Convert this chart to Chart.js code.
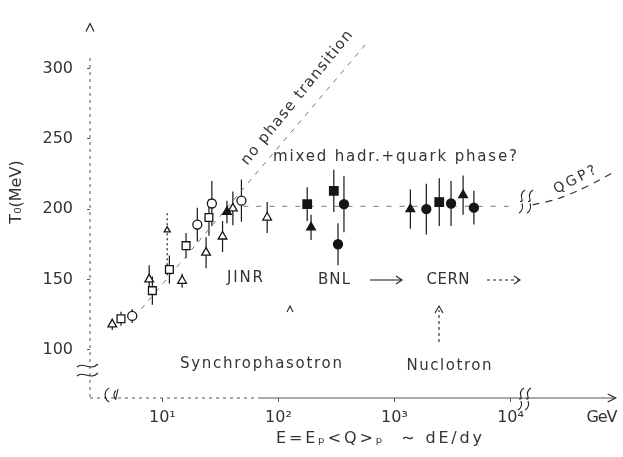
<!DOCTYPE html>
<html>
<head>
<meta charset="utf-8">
<script src="https://cdn.jsdelivr.net/npm/chart.js@4.4.1/dist/chart.umd.min.js"></script>
<style>
  html, body { margin: 0; padding: 0; background: #fff; }
  #wrap { width: 623px; height: 457px; position: relative; }
</style>
</head>
<body>
<div id="wrap"><canvas id="c"></canvas></div>
<script>
// values (E in GeV, T0 in MeV)
const openTriE = [3.7, 7.7, 14.8, 23.8, 33, 40.5, 80];
const openTriT = [118, 150, 149, 169, 180.5, 200.5, 194];
const openTriErr = [4, 10, 5, 11, 11, 12, 11];

const dottedTriE = [11.0];
const dottedTriT = [185];
const dottedTriErrUp = [12];
const dottedTriErrDn = [32];

const openSqE = [4.4, 8.2, 11.5, 16, 25.2];
const openSqT = [122, 142, 157, 174, 194];
const openSqErr = [5, 10, 10, 9, 13];

const openCircE = [5.5, 20, 26.7, 48];
const openCircT = [124, 189, 204, 206];
const openCircErr = [5, 12, 16, 15];

const fillTriE = [36, 191, 1370, 3900];
const fillTriT = [198, 187, 200, 210];
const fillTriErr = [8, 9, 14, 14];

const fillSqE = [177, 300, 2430];
const fillSqT = [203.5, 213, 205];
const fillSqErr = [12, 15, 17];

const fillCircE = [367, 326, 1880, 3070, 4830];
const fillCircT = [203.5, 175, 200, 204, 201];
const fillCircErr = [20, 15, 18, 16, 12];

// guide lines
const diagE = [6.6, 560];
const diagT = [129, 317];
const flatE = [50, 11000];
const flatT = [202, 202];
const qgpE = [15500, 24700, 38900, 57700, 76000];
const qgpT = [203, 207, 213.5, 220.5, 226];

const xTickValues = [10, 100, 1000, 10000];
const xTickLabels = ['10¹', '10²', '10³', '10⁴'];
const yTickValues = [100, 150, 200, 250, 300];

const INK = '#161616';
const TXT = '#333';
const FONT = '"DejaVu Sans", sans-serif';

function pts(xs, ys) { return xs.map((x, i) => ({ x, y: ys[i] })); }

function markerSet(label, xs, ys, style, filled, r, up, dn, dash) {
  return {
    type: 'scatter', label, data: pts(xs, ys),
    pointStyle: style, pointRadius: r, pointHoverRadius: r,
    pointBackgroundColor: filled ? INK : '#fff',
    pointBorderColor: INK, pointBorderWidth: 1.3,
    errUp: up, errDn: dn || up, errDash: dash || null, order: 1
  };
}

function lineSet(label, xs, ys, dash, color, width) {
  return {
    type: 'line', label, data: pts(xs, ys), showLine: true,
    borderColor: color, borderWidth: width, borderDash: dash,
    pointRadius: 0, fill: false, tension: 0.3, order: 5
  };
}

// vertical error bars, drawn under the markers
const errorBars = {
  id: 'errorBars',
  beforeDatasetsDraw(chart) {
    const { ctx } = chart;
    const y = chart.scales.y, x = chart.scales.x;
    chart.data.datasets.forEach(ds => {
      if (!ds.errUp) return;
      ctx.save();
      ctx.strokeStyle = INK;
      ctx.lineWidth = 1.2;
      if (ds.errDash) ctx.setLineDash(ds.errDash);
      ds.data.forEach((p, i) => {
        const px = x.getPixelForValue(p.x);
        ctx.beginPath();
        ctx.moveTo(px, y.getPixelForValue(p.y + ds.errUp[i]));
        ctx.lineTo(px, y.getPixelForValue(p.y - ds.errDn[i]));
        ctx.stroke();
      });
      ctx.restore();
    });
  }
};

function fitText(ctx, text, cx, cy, width, angle) {
  ctx.save();
  ctx.translate(cx, cy);
  ctx.rotate(angle || 0);
  ctx.textAlign = 'center';
  ctx.textBaseline = 'middle';
  const w = ctx.measureText(text).width;
  const ls = (width - w) / Math.max(text.length - 1, 1);
  ctx.letterSpacing = ls + 'px';
  ctx.fillText(text, ls / 2, 0);
  ctx.restore();
}

function curly(ctx, x, y0, y1) {
  const m = (y0 + y1) / 2;
  ctx.beginPath();
  ctx.moveTo(x + 3, y0);
  ctx.quadraticCurveTo(x - 2, y0 + 3, x, m - 2);
  ctx.quadraticCurveTo(x + 1, m, x - 2, m);
  ctx.moveTo(x, m + 2);
  ctx.quadraticCurveTo(x + 2, y1 - 3, x - 3, y1);
  ctx.stroke();
}

const decorations = {
  id: 'decorations',
  beforeDatasetsDraw(chart) {
    const { ctx, chartArea: a } = chart;
    ctx.save();
    ctx.strokeStyle = '#555';
    ctx.lineWidth = 1;
    // y axis (faint, dashed) with arrow
    ctx.setLineDash([3, 4]);
    ctx.beginPath(); ctx.moveTo(a.left, 58); ctx.lineTo(a.left, a.bottom); ctx.stroke();
    // x axis: dotted left part, solid right part
    ctx.beginPath(); ctx.moveTo(a.left, a.bottom); ctx.lineTo(260, a.bottom); ctx.stroke();
    ctx.setLineDash([]);
    ctx.beginPath(); ctx.moveTo(260, a.bottom); ctx.lineTo(a.right - 2, a.bottom); ctx.stroke();
    ctx.lineWidth = 1.2;
    ctx.strokeStyle = '#222';
    ctx.beginPath(); ctx.moveTo(a.right - 8, a.bottom - 4); ctx.lineTo(a.right, a.bottom); ctx.lineTo(a.right - 8, a.bottom + 4); ctx.stroke();
    ctx.beginPath(); ctx.moveTo(a.left - 4, a.top + 8); ctx.lineTo(a.left, a.top); ctx.lineTo(a.left + 4, a.top + 8); ctx.stroke();
    ctx.restore();
  },
  afterDraw(chart) {
    const { ctx, chartArea: a } = chart;
    ctx.save();
    ctx.fillStyle = TXT;
    ctx.strokeStyle = '#222';
    ctx.lineWidth = 1.1;

    // axis titles
    ctx.font = '16px ' + FONT;
    ctx.save();
    ctx.translate(17, 192);
    ctx.rotate(-Math.PI / 2);
    ctx.textAlign = 'center'; ctx.textBaseline = 'middle';
    ctx.fillText('T₀(MeV)', 0, 0);
    ctx.restore();
    fitText(ctx, 'E=Eₚ<Q>ₚ  ∼ dE/dy', 379, 439, 206);
    fitText(ctx, 'GeV', 602, 418, 31);

    // region labels
    ctx.font = '15px ' + FONT;
    fitText(ctx, 'mixed hadr.+quark phase?', 395, 157, 244);
    fitText(ctx, 'no phase transition', 297, 98, 168, -51 * Math.PI / 180);
    ctx.font = '14px ' + FONT;
    fitText(ctx, 'QGP?', 575, 180, 46, -27 * Math.PI / 180);
    ctx.font = '15px ' + FONT;
    fitText(ctx, 'JINR', 245, 278, 36);
    fitText(ctx, 'BNL', 334, 280, 32);
    fitText(ctx, 'CERN', 448, 280, 43);
    fitText(ctx, 'Synchrophasotron', 261, 364, 162);
    fitText(ctx, 'Nuclotron', 449, 366, 85);

    // arrows between labels
    ctx.beginPath(); ctx.moveTo(370, 280); ctx.lineTo(401, 280); ctx.stroke();
    ctx.beginPath(); ctx.moveTo(396, 276); ctx.lineTo(402, 280); ctx.lineTo(396, 284); ctx.stroke();
    ctx.setLineDash([3, 3]);
    ctx.beginPath(); ctx.moveTo(487, 280); ctx.lineTo(519, 280); ctx.stroke();
    ctx.beginPath(); ctx.moveTo(439, 342); ctx.lineTo(439, 310); ctx.stroke();
    ctx.setLineDash([]);
    ctx.beginPath(); ctx.moveTo(514, 276); ctx.lineTo(520, 280); ctx.lineTo(514, 284); ctx.stroke();
    ctx.beginPath(); ctx.moveTo(435, 313); ctx.lineTo(439, 306); ctx.lineTo(443, 313); ctx.stroke();
    ctx.beginPath(); ctx.moveTo(287, 312); ctx.lineTo(290, 306); ctx.lineTo(293, 312); ctx.stroke();

    // axis breaks
    ctx.beginPath();
    ctx.moveTo(77, 367); ctx.bezierCurveTo(83, 361, 90, 372, 98, 364);
    ctx.moveTo(77, 376); ctx.bezierCurveTo(83, 370, 90, 381, 98, 373);
    ctx.stroke();
    ctx.beginPath();
    ctx.arc(113, 395, 8, Math.PI * 0.65, Math.PI * 1.35);
    ctx.moveTo(118, 389);
    ctx.arc(120, 395, 6, Math.PI * 0.75, Math.PI * 1.25);
    ctx.stroke();
    curly(ctx, 521, 388, 410);
    curly(ctx, 528, 388, 410);
    curly(ctx, 522, 190, 213);
    curly(ctx, 530, 190, 213);
    ctx.restore();
  }
};

const datasets = [
  lineSet('no phase transition', diagE, diagT, [5, 6], '#777', 1),
  lineSet('mixed', flatE, flatT, [5, 8], '#777', 1),
  lineSet('QGP', qgpE, qgpT, [7, 6], '#333', 1.2),
  markerSet('open triangles', openTriE, openTriT, 'triangle', false, 5, openTriErr),
  markerSet('open triangle (dotted)', dottedTriE, dottedTriT, 'triangle', false, 3.5, dottedTriErrUp, dottedTriErrDn, [2, 3]),
  markerSet('open squares', openSqE, openSqT, 'rect', false, 5.5, openSqErr),
  markerSet('open circles', openCircE, openCircT, 'circle', false, 4.5, openCircErr),
  markerSet('filled triangles', fillTriE, fillTriT, 'triangle', true, 5, fillTriErr),
  markerSet('filled squares', fillSqE, fillSqT, 'rect', true, 6, fillSqErr),
  markerSet('filled circles', fillCircE, fillCircT, 'circle', true, 4.5, fillCircErr)
];

new Chart(document.getElementById('c'), {
  type: 'scatter',
  data: { datasets },
  options: {
    responsive: true,
    maintainAspectRatio: false,
    animation: false,
    layout: { padding: { top: 10, right: 3, left: 0, bottom: 0 } },
    plugins: { legend: { display: false }, tooltip: { enabled: false } },
    scales: {
      x: {
        type: 'logarithmic', min: 2.38, max: 80500,
        afterFit: s => { s.height = 59; },
        afterBuildTicks: s => { s.ticks = xTickValues.map(v => ({ value: v })); },
        grid: { drawOnChartArea: false, drawTicks: true, tickLength: 4, color: '#555' },
        border: { display: false },
        ticks: {
          autoSkip: false, maxRotation: 0, padding: 6, color: TXT,
          font: { family: FONT, size: 16 },
          callback: v => { const i = xTickValues.indexOf(v); return i >= 0 ? xTickLabels[i] : ''; }
        }
      },
      y: {
        min: 65.6, max: 332,
        afterFit: s => { s.width = 90; },
        afterBuildTicks: s => { s.ticks = yTickValues.map(v => ({ value: v })); },
        grid: { drawOnChartArea: false, drawTicks: true, tickLength: 3, color: '#555' },
        border: { display: false },
        ticks: { padding: 14, color: TXT, font: { family: FONT, size: 16 } }
      }
    }
  },
  plugins: [errorBars, decorations]
});
</script>
</body>
</html>
